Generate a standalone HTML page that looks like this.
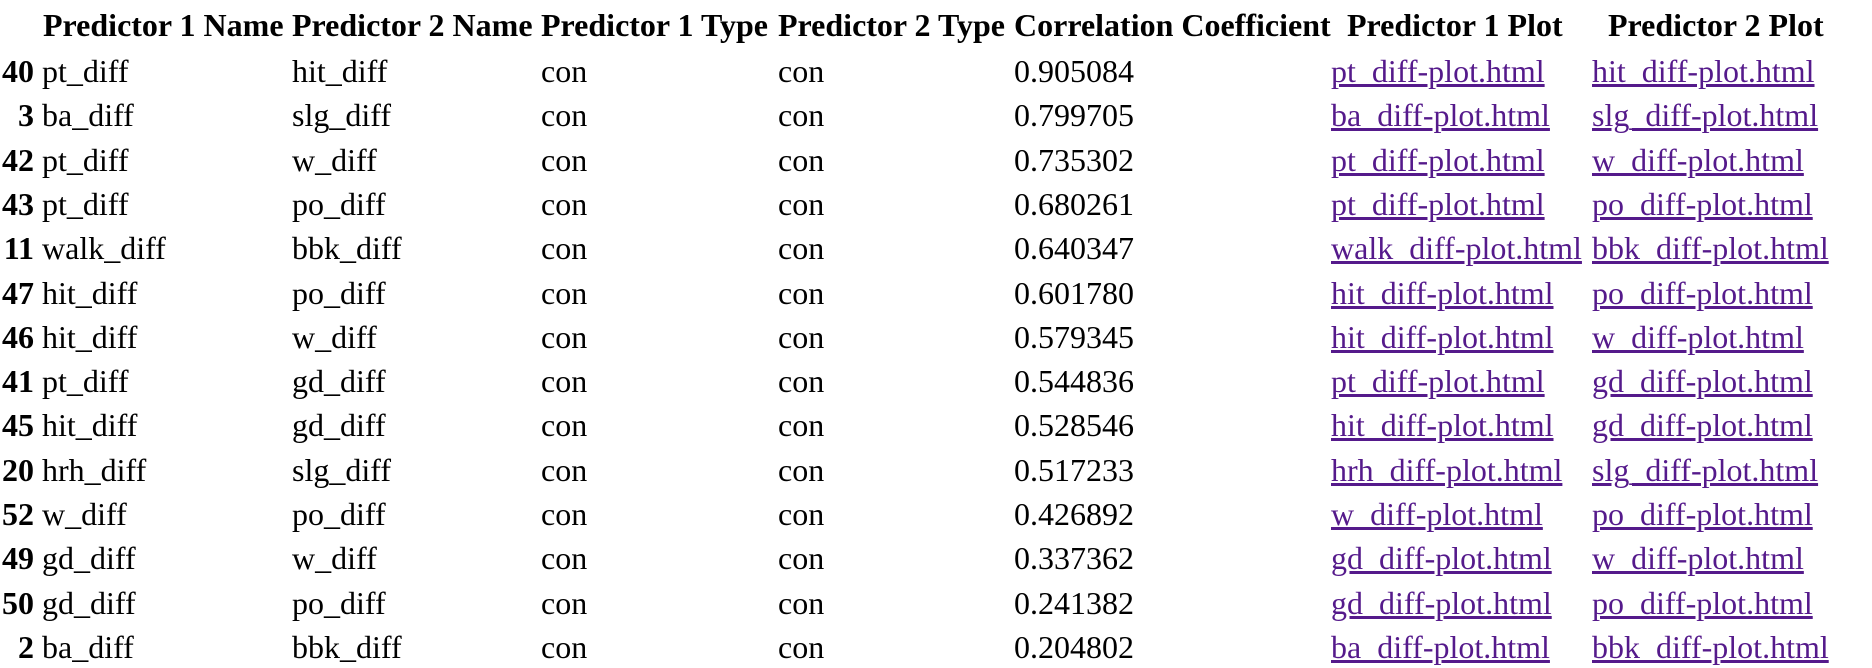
<!DOCTYPE html>
<html><head><meta charset="utf-8"><style>
body{margin:0;width:1872px;height:668px;background:#fff;overflow:hidden;font-family:"Liberation Serif",serif;font-size:32px;color:#000}
.c{position:absolute;white-space:nowrap;line-height:36px}
.h{font-weight:bold}
.i{font-weight:bold;text-align:right;width:40px}
a{color:#551A8B;text-decoration:underline}
</style></head><body>
<div id="t"></div>
<script>
const idx=[40,3,42,43,11,47,46,41,45,20,52,49,50,2];
const p1=["pt_diff","ba_diff","pt_diff","pt_diff","walk_diff","hit_diff","hit_diff","pt_diff","hit_diff","hrh_diff","w_diff","gd_diff","gd_diff","ba_diff"];
const p2=["hit_diff","slg_diff","w_diff","po_diff","bbk_diff","po_diff","w_diff","gd_diff","gd_diff","slg_diff","po_diff","w_diff","po_diff","bbk_diff"];
const corr=["0.905084","0.799705","0.735302","0.680261","0.640347","0.601780","0.579345","0.544836","0.528546","0.517233","0.426892","0.337362","0.241382","0.204802"];
const heads=["Predictor 1 Name","Predictor 2 Name","Predictor 1 Type","Predictor 2 Type","Correlation Coefficient","Predictor 1 Plot","Predictor 2 Plot"];
const hx=[43,292,541,778,1014,1347,1608];
const cx=[42,292,541,778,1014,1331,1592];
const t=document.getElementById('t');
function cell(x,y,html,cls,name,inter){
  const d=document.createElement('div');
  d.className='c '+(cls||'');
  d.style.left=x+'px';d.style.top=(y-19)+'px';
  d.innerHTML=html;
  
  
  t.appendChild(d);return d;
}
heads.forEach((h,k)=>cell(hx[k],26,h,'h','header-'+h.toLowerCase().replace(/ /g,'-'),false));
for(let i=0;i<idx.length;i++){
  const y=72+44.3*i;
  cell(-6,y,idx[i],'i','row-index',false);
  cell(cx[0],y,p1[i],'','predictor-1-name',false);
  cell(cx[1],y,p2[i],'','predictor-2-name',false);
  cell(cx[2],y,'con','','predictor-1-type',false);
  cell(cx[3],y,'con','','predictor-2-type',false);
  cell(cx[4],y,corr[i],'','correlation-value',false);
  cell(cx[5],y,'<a href="#">'+p1[i]+'-plot.html</a>','','predictor-1-plot-link',true);
  cell(cx[6],y,'<a href="#">'+p2[i]+'-plot.html</a>','','predictor-2-plot-link',true);
}
</script>
</body></html>
